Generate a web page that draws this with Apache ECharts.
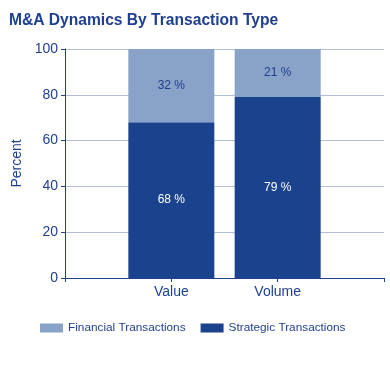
<!DOCTYPE html>
<html><head><meta charset="utf-8">
<script src="https://cdn.jsdelivr.net/npm/echarts@6/dist/echarts.min.js"></script>
<style>html,body{margin:0;padding:0;background:#fff}#c{width:390px;height:380px}</style>
</head><body><div id="c"></div>
<script>
const categories = ['', 'Value', 'Volume', ''];
const strategic = [null, 68, 79, null];
const financial = [null, 32, 21, null];
const yTicks = [0, 20, 40, 60, 80, 100];

const dark = '#1b428c', light = '#88a2c8', text = '#1f3f8f';
const chart = echarts.init(document.getElementById('c'), null, {renderer: 'canvas'});
chart.setOption({
  animation: false,
  title: {text: 'M&A Dynamics By Transaction Type', left: 4, top: 8,
    textStyle: {fontFamily: 'Liberation Sans', fontWeight: 'bold', fontSize: 15.6, color: text}},
  grid: {left: 65, right: 6, top: 49, bottom: 102},
  legend: {left: 40, top: 322, padding: 0, itemWidth: 23, itemHeight: 9, itemGap: 15,
    icon: 'rect',
    textStyle: {fontFamily: 'Liberation Sans', fontSize: 11.8, color: text},
    data: ['Financial Transactions', 'Strategic Transactions']},
  xAxis: {type: 'category', data: categories, boundaryGap: false,
    axisLine: {lineStyle: {color: text, width: 1}},
    axisTick: {show: true, length: 4, lineStyle: {color: text}},
    axisLabel: {fontFamily: 'Liberation Sans', fontSize: 14, color: text, margin: 7},
    splitLine: {show: false}},
  yAxis: {type: 'value', min: yTicks[0], max: yTicks[yTicks.length-1], interval: 20,
    name: 'Percent', nameLocation: 'middle', nameGap: 40,
    nameTextStyle: {fontFamily: 'Liberation Sans', fontSize: 14, color: text},
    axisLine: {show: true, lineStyle: {color: text, width: 1}},
    axisTick: {show: true, length: 4, lineStyle: {color: text}},
    axisLabel: {fontFamily: 'Liberation Sans', fontSize: 14, color: text, margin: 7},
    splitLine: {lineStyle: {color: '#b3bdd6', width: 1}}},
  series: [
    {name: 'Strategic Transactions', type: 'bar', stack: 'a', data: strategic, barWidth: 86,
     itemStyle: {color: dark},
     label: {show: true, position: 'inside', formatter: p => p.value + ' %',
       fontFamily: 'Liberation Sans', fontSize: 12, color: '#ffffff'}},
    {name: 'Financial Transactions', type: 'bar', stack: 'a', data: financial, barWidth: 86,
     itemStyle: {color: light},
     label: {show: true, position: 'inside', formatter: p => p.value + ' %',
       fontFamily: 'Liberation Sans', fontSize: 12, color: text}}
  ]
});
</script></body></html>
